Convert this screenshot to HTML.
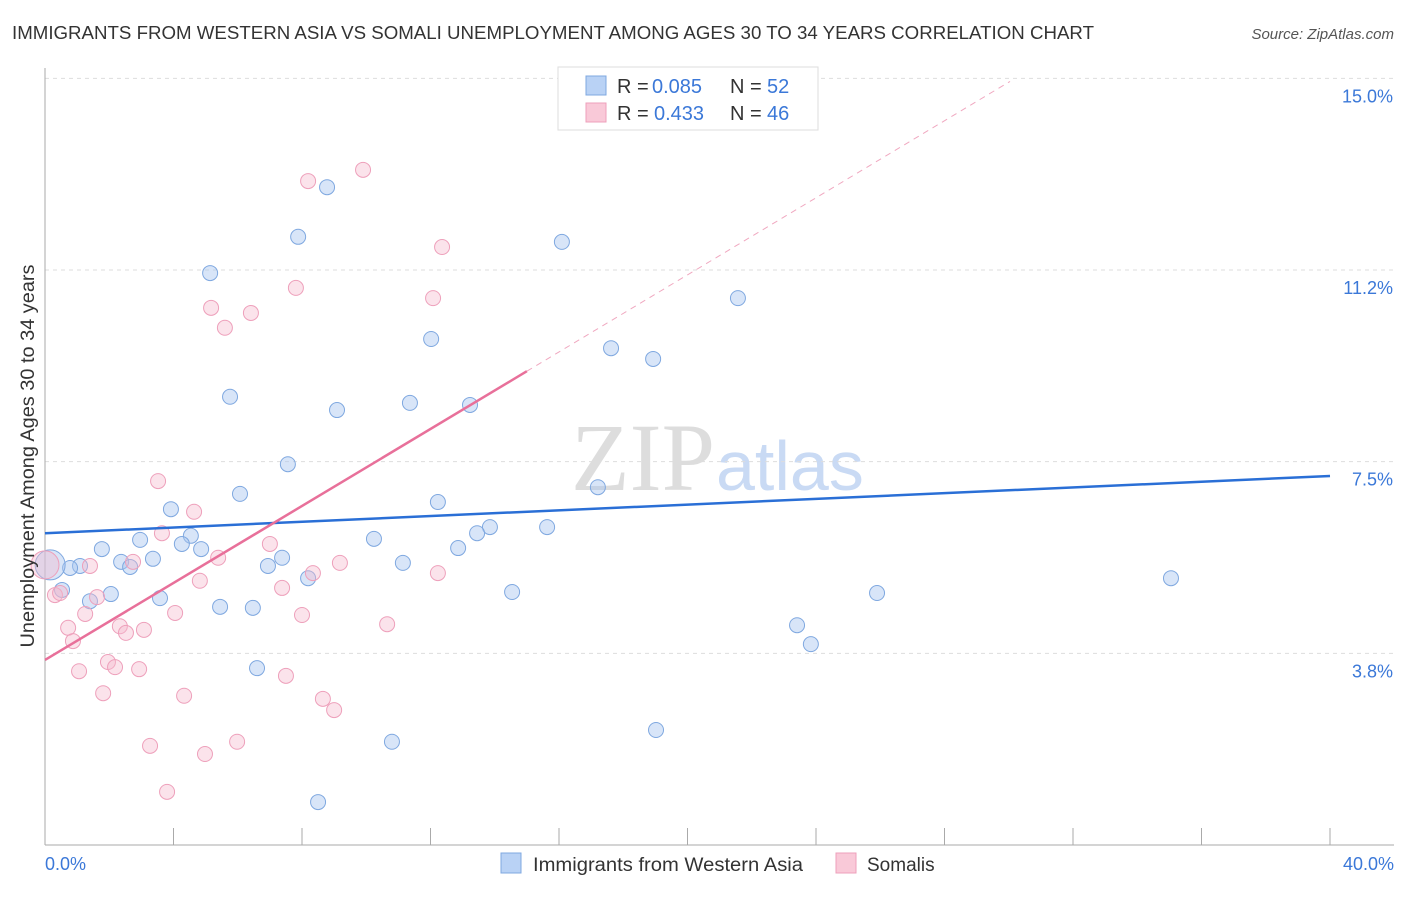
<!DOCTYPE html>
<html><head><meta charset="utf-8"><style>
body{margin:0;background:#fff;font-family:"Liberation Sans",sans-serif}
</style></head><body>
<svg id="chart" width="1406" height="892" xmlns="http://www.w3.org/2000/svg">
<text x="12" y="39" font-size="18" fill="#333" textLength="1082" lengthAdjust="spacingAndGlyphs">IMMIGRANTS FROM WESTERN ASIA VS SOMALI UNEMPLOYMENT AMONG AGES 30 TO 34 YEARS CORRELATION CHART</text>
<text x="1394" y="39" font-size="15" fill="#555" font-style="italic" text-anchor="end">Source: ZipAtlas.com</text>
<text x="715" y="490" font-size="96" font-family="Liberation Serif,serif" fill="#ddd" text-anchor="end">ZIP</text>
<text x="716" y="490" font-size="70" fill="#c9daf4">atlas</text>
<g id="grid"></g><g id="marks"></g>
<text transform="translate(34,456) rotate(-90)" font-size="19" fill="#333" text-anchor="middle" textLength="383" lengthAdjust="spacingAndGlyphs">Unemployment Among Ages 30 to 34 years</text>
<g>
<rect x="558" y="67" width="260" height="63" fill="#fff" stroke="#ddd"/>
<rect x="586" y="76" width="20" height="19" fill="#b9d2f5" stroke="#7fa8e0"/>
<rect x="586" y="103" width="20" height="19" fill="#f9c9d8" stroke="#eea0bb"/>
<text x="617" y="93" font-size="20" fill="#333">R = </text><text x="652" y="93" font-size="20" fill="#3b78d8">0.085</text>
<text x="730" y="93" font-size="20" fill="#333">N = </text><text x="767" y="93" font-size="20" fill="#3b78d8">52</text>
<text x="617" y="120" font-size="20" fill="#333">R = </text><text x="654" y="120" font-size="20" fill="#3b78d8">0.433</text>
<text x="730" y="120" font-size="20" fill="#333">N = </text><text x="767" y="120" font-size="20" fill="#3b78d8">46</text>
</g>
<g>
<rect x="501" y="853" width="20" height="20" fill="#b9d2f5" stroke="#7fa8e0"/>
<text x="533" y="871" font-size="19" fill="#333" textLength="270" lengthAdjust="spacingAndGlyphs">Immigrants from Western Asia</text>
<rect x="836" y="853" width="20" height="20" fill="#f9c9d8" stroke="#eea0bb"/>
<text x="867" y="871" font-size="19" fill="#333">Somalis</text>
</g>
</svg>
<script>
const xTicks=[0,40];
const yTicks=[3.75,7.5,11.25,15];
const yTickLabels=["3.8%","7.5%","11.2%","15.0%"];
const blueX=[8.78,7.88,5.14,16.09,21.57,12.02,17.62,18.93,5.76,11.36,9.09,13.23,7.56,6.07,12.23,17.21,3.92,4.54,4.26,4.86,2.96,1.77,13.85,13.45,15.63,10.24,12.86,7.38,6.94,3.36,2.37,2.65,1.09,0.78,11.14,8.19,35.05,0.16,0.53,1.40,2.05,3.58,5.45,6.47,14.54,25.90,23.41,23.84,6.60,19.02,10.80,8.50];
const blueY=[12.87,11.90,11.19,11.80,10.70,9.90,9.72,9.51,8.77,8.65,8.51,8.61,7.45,6.87,6.71,7.00,6.57,6.05,5.89,5.79,5.97,5.79,6.22,6.10,6.22,5.99,5.81,5.62,5.46,5.60,5.54,5.44,5.46,5.42,5.52,5.22,5.22,5.48,4.99,4.77,4.91,4.83,4.66,4.64,4.95,4.93,4.30,3.93,3.46,2.25,2.02,0.84];
const pinkX=[9.90,8.19,12.36,7.81,12.08,5.17,6.41,5.60,3.52,4.64,3.64,7.00,5.39,9.18,8.34,12.23,4.82,7.38,1.40,2.74,0.31,0.47,1.62,8.00,4.05,10.65,1.25,2.33,0.72,3.08,2.52,0.87,1.96,2.18,2.93,1.06,7.50,1.81,4.33,8.65,9.00,3.27,5.98,4.98,3.80,0];
const pinkY=[13.21,12.99,11.70,10.90,10.70,10.51,10.41,10.12,7.12,6.52,6.10,5.89,5.62,5.52,5.32,5.32,5.17,5.03,5.46,5.54,4.89,4.93,4.85,4.50,4.54,4.32,4.52,4.28,4.25,4.21,4.15,3.99,3.58,3.48,3.44,3.40,3.31,2.97,2.92,2.86,2.64,1.94,2.02,1.78,1.04,5.48];
const blueTrend=[6.10,7.22];
const pinkTrend=[3.62,9.27,14.94];
const pinkTrendX=[0,15,30.04];
const X=v=>45+v*32.125, Y=v=>845-v*51.11;
const NS="http://www.w3.org/2000/svg";
function mk(tag,attrs,parent){const e=document.createElementNS(NS,tag);for(const k in attrs)e.setAttribute(k,attrs[k]);parent.appendChild(e);return e;}
const grid=document.getElementById('grid'), marks=document.getElementById('marks');
yTicks.forEach((t,i)=>{
 const l=mk('line',{x1:45,x2:1394,y1:Y(t),y2:Y(t),stroke:'#ddd','stroke-dasharray':'4,4'},grid);
 
 
 const tx=mk('text',{x:1393,y:Y(t)+24,'font-size':18,fill:'#3b78d8','text-anchor':'end'},grid);
 tx.textContent=yTickLabels[i];
 
 
});
const ax=mk('line',{x1:45,x2:1394,y1:845,y2:845,stroke:'#aaa'},grid);


const ay=mk('line',{x1:45,x2:45,y1:68,y2:845,stroke:'#aaa'},grid);


for(let i=0;i<=10;i++){const v=xTicks[0]+(xTicks[1]-xTicks[0])*i/10;
 const t=mk('line',{x1:X(v),x2:X(v),y1:828,y2:845,stroke:'#aaa'},grid);
 
 }
[[xTicks[0],'start',45],[xTicks[1],'end',1394]].forEach(([v,a,px])=>{
 const t=mk('text',{x:px,y:870,'font-size':18,fill:'#3b78d8','text-anchor':a},grid);
 t.textContent=v.toFixed(1)+'%';
 
 });
blueX.forEach((v,i)=>{
 const c=mk('circle',{cx:X(v),cy:Y(blueY[i]),r:i==37?15:7.5,fill:'rgba(169,198,240,0.45)',stroke:'#7fa8e0','stroke-width':1},marks);
 
 });
pinkX.forEach((v,i)=>{
 const c=mk('circle',{cx:X(v),cy:Y(pinkY[i]),r:i==45?14:7.5,fill:'rgba(245,184,204,0.4)',stroke:'#eea0bb','stroke-width':1},marks);
 
 });
const bl=mk('line',{x1:X(0),y1:Y(blueTrend[0]),x2:X(40),y2:Y(blueTrend[1]),stroke:'#2a6fd6','stroke-width':2.5},marks);


const pl=mk('line',{x1:X(pinkTrendX[0]),y1:Y(pinkTrend[0]),x2:X(pinkTrendX[1]),y2:Y(pinkTrend[1]),stroke:'#e8709a','stroke-width':2.5},marks);


const pd=mk('line',{x1:X(pinkTrendX[1]),y1:Y(pinkTrend[1]),x2:X(pinkTrendX[2]),y2:Y(pinkTrend[2]),stroke:'#f0a8c0','stroke-width':1,'stroke-dasharray':'6,5'},marks);


</script>
</body></html>
